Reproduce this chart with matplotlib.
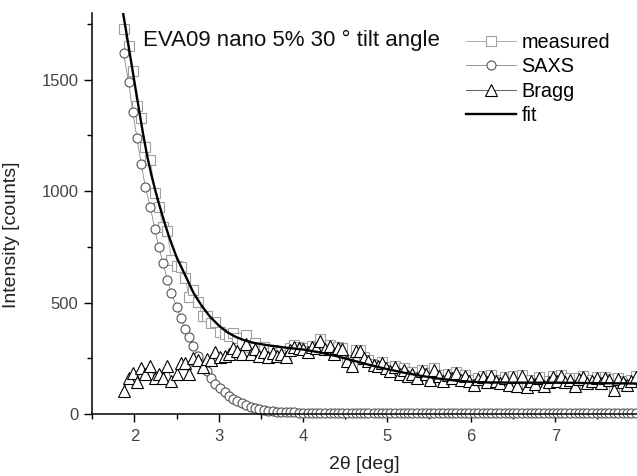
import matplotlib
matplotlib.use('Agg')
import matplotlib.pyplot as plt
from matplotlib.ticker import MultipleLocator

plt.rcParams['font.family'] = ['Liberation Sans', 'DejaVu Sans']

# 2theta positions of the measurement (deg)
two_theta = [1.87, 1.93, 1.98, 2.03, 2.08, 2.13, 2.19, 2.24, 2.29, 2.34,
             2.39, 2.44, 2.50, 2.55, 2.60, 2.65, 2.70, 2.76, 2.81, 2.86,
             2.91, 2.96, 3.02, 3.07, 3.12, 3.17, 3.22, 3.28, 3.33, 3.38,
             3.43, 3.48, 3.54, 3.59, 3.64, 3.69, 3.74, 3.80, 3.85, 3.90,
             3.95, 4.00, 4.06, 4.11, 4.16, 4.21, 4.26, 4.32, 4.37, 4.42,
             4.47, 4.52, 4.58, 4.63, 4.68, 4.73, 4.78, 4.84, 4.89, 4.94,
             4.99, 5.04, 5.10, 5.15, 5.20, 5.25, 5.30, 5.36, 5.41, 5.46,
             5.51, 5.56, 5.62, 5.67, 5.72, 5.77, 5.82, 5.88, 5.93, 5.98,
             6.03, 6.08, 6.14, 6.19, 6.24, 6.29, 6.34, 6.40, 6.45, 6.50,
             6.55, 6.60, 6.66, 6.71, 6.76, 6.81, 6.86, 6.92, 6.97, 7.02,
             7.07, 7.12, 7.18, 7.23, 7.28, 7.33, 7.38, 7.44, 7.49, 7.54,
             7.59, 7.64, 7.70, 7.75, 7.80, 7.85, 7.90, 7.96]

measured = [1726, 1650, 1539, 1384, 1328, 1198, 1141, 993, 930, 838,
            820, 692, 664, 660, 612, 524, 556, 505, 439, 442,
            408, 414, 369, 359, 352, 365, 342, 319, 355, 302,
            318, 285, 299, 274, 288, 273, 280, 264, 296, 308,
            303, 297, 285, 306, 301, 335, 296, 310, 275, 303,
            295, 245, 220, 288, 288, 257, 243, 227, 220, 235,
            213, 197, 217, 185, 205, 177, 187, 165, 197, 183,
            157, 205, 175, 155, 180, 165, 188, 157, 175, 153,
            137, 163, 170, 150, 175, 155, 143, 165, 135, 173,
            130, 175, 127, 155, 140, 165, 130, 147, 170, 155,
            177, 150, 160, 133, 163, 170, 145, 155, 167, 143,
            165, 157, 115, 163, 147, 135, 155, 173]

saxs = [1621, 1490, 1355, 1238, 1123, 1018, 927, 831, 748, 676,
        603, 542, 482, 431, 383, 344, 304, 262, 227, 195,
        164, 137, 115, 97, 82, 69, 58, 49, 41, 34,
        28, 23, 19, 16, 13, 11, 10, 9, 8, 8,
        7, 7, 7, 6, 6, 6, 6, 5, 5, 5,
        5, 5, 5, 5, 5, 5, 5, 5, 5, 5,
        5, 5, 5, 5, 5, 5, 5, 5, 5, 5,
        5, 5, 5, 5, 5, 5, 5, 5, 5, 5,
        5, 5, 5, 5, 5, 5, 5, 5, 5, 5,
        5, 5, 5, 5, 5, 5, 5, 5, 5, 5,
        5, 5, 5, 5, 5, 5, 5, 5, 5, 5,
        5, 5, 5, 5, 5, 5, 5, 5]

bragg = [105, 160, 184, 146, 205, 180, 214, 162, 182, 162,
         217, 150, 182, 229, 229, 180, 252, 243, 212, 247,
         244, 277, 254, 262, 270, 296, 284, 270, 314, 268,
         290, 262, 280, 258, 275, 262, 270, 255, 288, 300,
         296, 290, 278, 300, 295, 329, 290, 305, 270, 298,
         290, 240, 215, 283, 283, 252, 238, 222, 215, 230,
         208, 192, 212, 180, 200, 172, 182, 160, 192, 178,
         152, 200, 170, 150, 175, 160, 183, 152, 170, 148,
         132, 158, 165, 145, 170, 150, 138, 160, 130, 168,
         125, 170, 122, 150, 135, 160, 125, 142, 165, 150,
         172, 145, 155, 128, 158, 165, 140, 150, 162, 138,
         160, 152, 110, 158, 142, 130, 150, 168]

fit_x = [1.86, 1.90, 1.95, 2.00, 2.05, 2.10, 2.15, 2.20, 2.25, 2.30,
         2.35, 2.40, 2.45, 2.50, 2.60, 2.70, 2.80, 2.90, 3.00, 3.10,
         3.20, 3.30, 3.40, 3.50, 3.60, 3.80, 4.00, 4.20, 4.40, 4.60,
         4.80, 5.00, 5.20, 5.40, 5.60, 5.80, 6.00, 6.20, 6.60, 7.00,
         7.50, 8.00]
fit_y = [1810, 1720, 1605, 1490, 1375, 1262, 1160, 1075, 1000, 932,
         868, 808, 755, 705, 625, 545, 485, 436, 398, 368,
         347, 332, 321, 314, 308, 298, 290, 277, 260, 240,
         220, 202, 186, 172, 160, 151, 145, 142, 141, 141,
         139, 137]

fig = plt.figure(figsize=(6.37, 4.76), dpi=100)
ax = fig.add_axes([0.145, 0.130, 0.855, 0.843])

ax.plot(two_theta, measured, color='#b0b0b0', lw=0.7, marker='s', ms=7,
        mfc='white', mec='#a0a0a0', mew=0.8, label='measured')
ax.plot(two_theta, saxs, color='#888888', lw=0.6, marker='o', ms=6.5,
        mfc='white', mec='#555555', mew=0.8, label='SAXS', clip_on=False)
ax.plot(two_theta, bragg, color='#444444', lw=0.6, marker='^', ms=8,
        mfc='white', mec='black', mew=0.8, label='Bragg')
ax.plot(fit_x, fit_y, color='black', lw=1.7, label='fit')

ax.set_xlim(1.5, 7.97)
ax.set_ylim(0, 1800)
ax.xaxis.set_major_locator(MultipleLocator(1))
ax.xaxis.set_minor_locator(MultipleLocator(0.5))
ax.yaxis.set_major_locator(MultipleLocator(500))
ax.yaxis.set_minor_locator(MultipleLocator(250))

ax.spines['top'].set_visible(False)
ax.spines['right'].set_visible(False)
ax.spines['left'].set_linewidth(1.1)
ax.spines['bottom'].set_linewidth(1.1)
ax.tick_params(which='major', direction='out', length=6, width=1.0,
               labelsize=12, labelcolor='#444444', pad=4)
ax.tick_params(which='minor', direction='out', length=3.5, width=1.0)
ax.tick_params(axis='x', which='major', pad=5)

ax.set_xlabel('2θ [deg]', fontsize=14, color='#222222')
ax.set_ylabel('Intensity [counts]', fontsize=14, color='#222222')
ax.xaxis.set_label_coords(0.5, -0.105)
ax.yaxis.set_label_coords(-0.133, 0.446)

fig.text(143 / 637, 1 - 45.7 / 476, 'EVA09 nano 5% 30 ° tilt angle',
         fontsize=16, color='#111111', va='baseline', ha='left')

ax.legend(loc='upper left', bbox_to_anchor=(466 / 637, 1 - 33 / 476),
          bbox_transform=fig.transFigure, frameon=False, fontsize=14.3,
          handlelength=2.5, handletextpad=0.3, labelspacing=0.27,
          borderpad=0, borderaxespad=0)

fig.savefig('out.png', dpi=100)
